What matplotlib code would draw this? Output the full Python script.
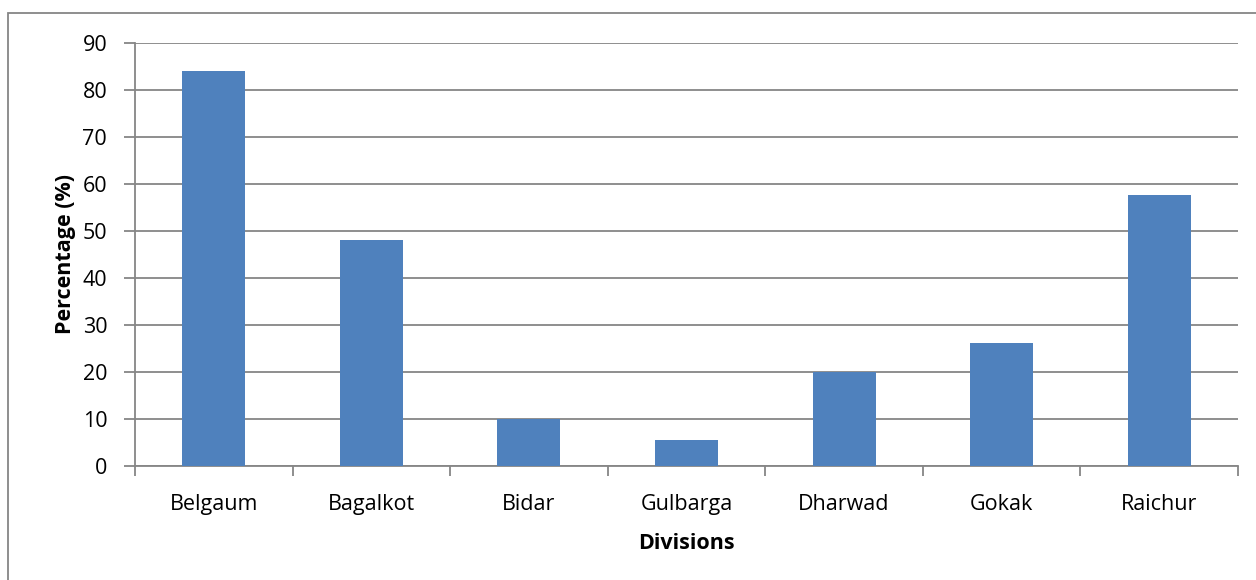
import matplotlib.pyplot as plt
from matplotlib.patches import Rectangle
import numpy as np

plt.rcParams['font.family'] = ['Open Sans', 'DejaVu Sans']

divisions = ['Belgaum', 'Bagalkot', 'Bidar', 'Gulbarga', 'Dharwad', 'Gokak', 'Raichur']
percentage = [84, 48, 10, 5.5, 20, 26.2, 57.6]

fig = plt.figure(figsize=(12.56, 5.8), dpi=100)
# outer chart border
fig.patches.append(Rectangle((8 / 1256, -0.01), 1.1, (580 - 13) / 580 + 0.01,
                             transform=fig.transFigure, fill=False,
                             edgecolor='#868686', lw=1.3))
ax = fig.add_axes([135 / 1256, 114 / 580, 1103 / 1256, 423 / 580])

x = np.arange(len(divisions))
ax.bar(x, percentage, width=0.4, color='#4F81BD', zorder=3)

ax.set_xlim(-0.5, len(divisions) - 0.5)
ax.set_ylim(0, 90)
ax.set_yticks(range(0, 91, 10))
ax.yaxis.grid(True, color='#868686', lw=1.3, zorder=0)

ax.set_xticks(x)
ax.set_xticklabels(divisions)
ax.set_xticks(np.arange(-0.5, len(divisions)), minor=True)
ax.tick_params(axis='x', which='major', length=0, pad=20, labelsize=15.5)
ax.tick_params(axis='x', which='minor', length=7, color='#868686', width=1.3)
ax.tick_params(axis='y', length=8, color='#868686', width=1.3, labelsize=15.5, pad=12)

for s in ['top', 'right']:
    ax.spines[s].set_visible(False)
for s in ['left', 'bottom']:
    ax.spines[s].set_color('#868686')
    ax.spines[s].set_linewidth(1.3)

ax.set_xlabel('Divisions', fontweight='bold', fontsize=15.5, labelpad=13)
ax.set_ylabel('Percentage (%)', fontweight='bold', fontsize=15.5, labelpad=5)

fig.savefig('out.png', dpi=100)
